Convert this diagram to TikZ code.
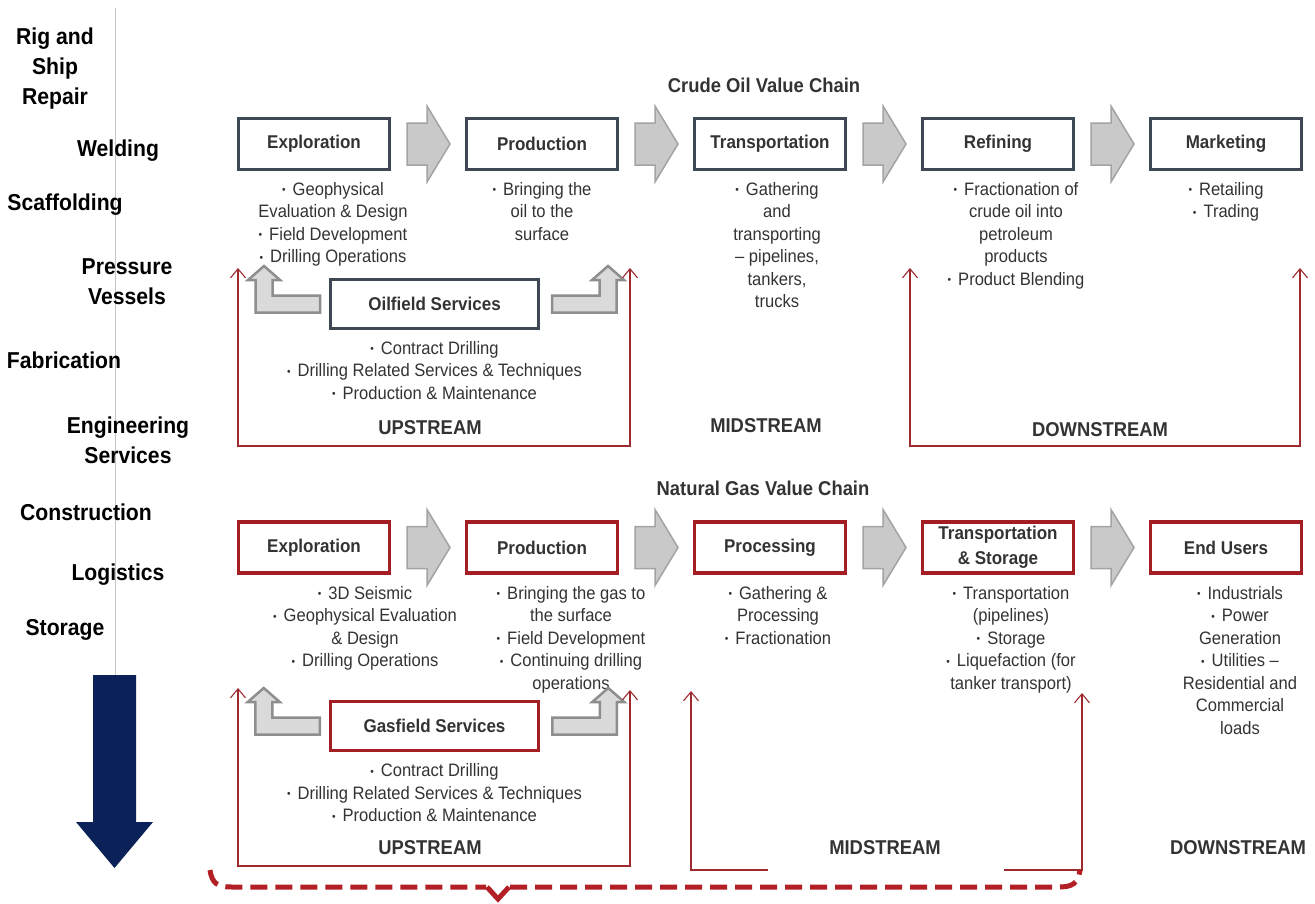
\documentclass[tikz,border=0pt]{standalone}
\usepackage{fontspec}
\setmainfont[FakeStretch=0.92]{Liberation Sans}
\usepackage{xcolor}
\usepackage{tikz}
\usetikzlibrary{arrows.meta,positioning,calc}

\definecolor{txt}{HTML}{333333}
\definecolor{oilline}{HTML}{3E4852}
\definecolor{gasline}{HTML}{A31D22}
\definecolor{linkred}{HTML}{9E2A2F}
\definecolor{arrgray}{HTML}{A3A3A3}
\definecolor{arrfill}{HTML}{C9C9C9}
\definecolor{elbgray}{HTML}{8E8E8E}
\definecolor{elbfill}{HTML}{DADADA}
\definecolor{arrnavy}{HTML}{0B2258}
\definecolor{bracered}{HTML}{B21F24}

\newcommand{\itm}{\raisebox{1.5pt}{\fontsize{11}{11}\selectfont •}\hspace{7pt}}

\begin{document}
\begin{tikzpicture}[x=1pt, y=-1pt,
  >={Straight Barb[length=9pt,width=15pt]},
  side/.style={font=\fontsize{23}{30}\selectfont\bfseries, align=center, inner sep=0pt},
  head/.style={font=\fontsize{20}{24}\selectfont\bfseries, text=txt, inner sep=0pt},
  oilbox/.style={rectangle, draw=oilline, line width=3pt, minimum width=151pt, minimum height=51pt, align=center, inner sep=0pt, font=\fontsize{18.5}{25}\selectfont\bfseries, text=txt},
  gasbox/.style={oilbox, draw=gasline, line width=3.5pt},
  items/.style={font=\fontsize{18}{22.5}\selectfont, text=txt, align=center, inner sep=0pt},
  link/.style={draw=linkred, line width=1.1pt},
  brace/.style={draw=bracered, line width=5pt, dash pattern=on 17pt off 8pt},
  chev/.pic={\draw[draw=arrgray, fill=arrfill, line width=1.5pt] (-21,-21) -- (-1,-21) -- (-1,-38) -- (22,0) -- (-1,38) -- (-1,21) -- (-21,21) -- cycle;},
  elbow/.pic={\draw[draw=elbgray, fill=elbfill, line width=2.5pt] (56,8.5) -- (-8.5,8.5) -- (-8.5,-24) -- (-16,-24) -- (0,-38) -- (16,-24) -- (8.5,-24) -- (8.5,-8.5) -- (56,-8.5) -- cycle;}
]
\useasboundingbox (0,0) rectangle (1315,903);

% Trades
\draw[gray!45, line width=1pt] (115,8) -- (115,675);
\node[side] (lrig) at (55,69) {Rig and\\Ship\\Repair};
\node[side] (lweld) at (118,151) {Welding};
\node[side] (lscaf) at (65,205) {Scaffolding};
\node[side] (lpres) at (127,282) {Pressure\\Vessels};
\node[side] (lfab) at (64,360) {Fabrication};
\node[side] (leng) at (128,440) {Engineering\\Services};
\node[side] (lcons) at (86,512) {Construction};
\node[side] (llog) at (118,575) {Logistics};
\node[side] (lstor) at (65,630) {Storage};
\fill[arrnavy] (93,675) -- (136,675) -- (136,822) -- (153,822) -- (114.5,868) -- (76,822) -- (93,822) -- cycle;

% Crude oil chain
\node[head] (otitle) at (764,85) {Crude Oil Value Chain};
\node[oilbox] (oexp) at (314,144) {Exploration};
\node[oilbox, right=74pt of oexp] (oprod) {Production};
\node[oilbox, right=74pt of oprod] (otrans) {Transportation};
\node[oilbox, right=74pt of otrans] (oref) {Refining};
\node[oilbox, right=74pt of oref] (omark) {Marketing};
\pic at ($(oexp.east)!0.5!(oprod.west)$) {chev};
\pic at ($(oprod.east)!0.5!(otrans.west)$) {chev};
\pic at ($(otrans.east)!0.5!(oref.west)$) {chev};
\pic at ($(oref.east)!0.5!(omark.west)$) {chev};

\node[items, below=11pt of oexp, xshift=19pt] (oexpi) {\itm Geophysical\\Evaluation \& Design\\\itm Field Development\\\itm Drilling Operations};
\node[items, below=11pt of oprod] (oprodi) {\itm Bringing the\\oil to the\\surface};
\node[items, below=11pt of otrans, xshift=7pt] (otransi) {\itm Gathering\\and\\transporting\\– pipelines,\\tankers,\\trucks};
\node[items, below=11pt of oref, xshift=18pt] (orefi) {\itm Fractionation of\\crude oil into\\petroleum\\products\\\itm Product Blending};
\node[items, below=11pt of omark] (omarki) {\itm Retailing\\\itm Trading};

\node[oilbox, minimum width=208pt, minimum height=49pt] (osvc) at (434.5,304) {Oilfield Services};
\node[items, below=11pt of osvc] (osvci) {\itm Contract Drilling\\\itm Drilling Related Services \& Techniques\\\itm Production \& Maintenance};
\pic at ($(osvc.west)+(-65,0)$) {elbow};
\pic[xscale=-1] at ($(osvc.east)+(68,0)$) {elbow};

\node[head] (oup) at (430,428) {UPSTREAM};
\node[head] (omid) at (766,426) {MIDSTREAM};
\node[head] (odown) at (1100,430) {DOWNSTREAM};
\coordinate (oupl) at (238,268);
\coordinate (oupr) at (630,268);
\coordinate (odownl) at (910,268);
\coordinate (odownr) at (1300,268);
\draw[link, <->] (oupl) -- ++(0,178) -| (oupr);
\draw[link, <->] (odownl) -- ++(0,178) -| (odownr);

% Natural gas chain
\node[head] (gtitle) at (763,488) {Natural Gas Value Chain};
\node[gasbox] (gexp) at (314,547.5) {Exploration};
\node[gasbox, right=73.5pt of gexp] (gprod) {Production};
\node[gasbox, right=73.5pt of gprod] (gproc) {Processing};
\node[gasbox, right=73.5pt of gproc] (gtrans) {Transportation\\\& Storage};
\node[gasbox, right=73.5pt of gtrans] (gend) {End Users};
\pic at ($(gexp.east)!0.5!(gprod.west)$) {chev};
\pic at ($(gprod.east)!0.5!(gproc.west)$) {chev};
\pic at ($(gproc.east)!0.5!(gtrans.west)$) {chev};
\pic at ($(gtrans.east)!0.5!(gend.west)$) {chev};

\node[items, below=11pt of gexp, xshift=51pt] (gexpi) {\itm 3D Seismic\\\itm Geophysical Evaluation\\\& Design\\\itm Drilling Operations};
\node[items, below=11pt of gprod, xshift=29pt] (gprodi) {\itm Bringing the gas to\\the surface\\\itm Field Development\\\itm Continuing drilling\\operations};
\node[items, below=11pt of gproc, xshift=8pt] (gproci) {\itm Gathering \&\\Processing\\\itm Fractionation};
\node[items, below=11pt of gtrans, xshift=13pt] (gtransi) {\itm Transportation\\(pipelines)\\\itm Storage\\\itm Liquefaction (for\\tanker transport)};
\node[items, below=11pt of gend, xshift=14pt] (gendi) {\itm Industrials\\\itm Power\\Generation\\\itm Utilities –\\Residential and\\Commercial\\loads};

\node[gasbox, minimum width=208pt, minimum height=49pt] (gsvc) at (434.5,726) {Gasfield Services};
\node[items, below=11pt of gsvc] (gsvci) {\itm Contract Drilling\\\itm Drilling Related Services \& Techniques\\\itm Production \& Maintenance};
\pic at ($(gsvc.west)+(-65,0)$) {elbow};
\pic[xscale=-1] at ($(gsvc.east)+(68,0)$) {elbow};

\node[head] (gup) at (430,848) {UPSTREAM};
\node[head] (gmid) at (885,848) {MIDSTREAM};
\node[head] (gdown) at (1238,848) {DOWNSTREAM};
\coordinate (gupl) at (238,688);
\coordinate (gupr) at (630,690);
\coordinate (gmidl) at (691,691);
\coordinate (gmidr) at (1082,693);
\draw[link, <->] (gupl) -- ++(0,178) -| (gupr);
\draw[link, <-] (gmidl) |- ++(77,179);
\draw[link, <-] (gmidr) |- ++(-78,177);

% Brace
\coordinate (bl) at (210,870);
\coordinate (bv) at (498,899);
\coordinate (br) at (1080,870);
\draw[brace] (bl) .. controls (212,884) and (218,887) .. (232,887) -- (486,887);
\draw[bracered, line width=5pt, line join=miter] (487,887) -- (bv) -- (509,887);
\draw[brace] (510,887) -- (1058,887) .. controls (1072,887) and (1078,884) .. (br);

\end{tikzpicture}
\end{document}
